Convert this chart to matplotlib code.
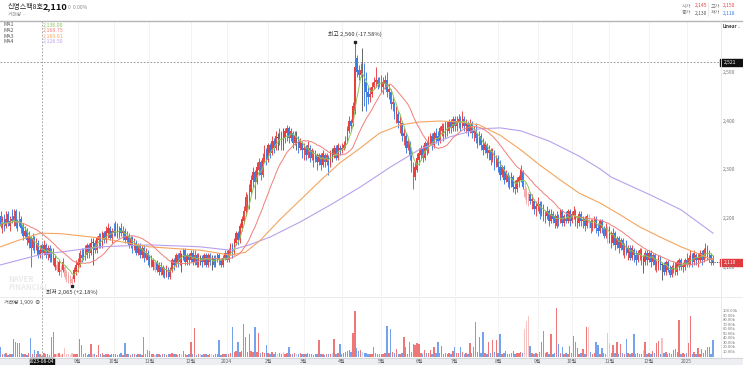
import matplotlib
matplotlib.use("Agg")
import matplotlib.pyplot as plt
import numpy as np
import pandas as pd
from matplotlib.patches import Rectangle

plt.rcParams['font.family'] = ['Noto Sans CJK KR', 'DejaVu Sans']

# ---------------- DATA (open, high, low, close, volume[k]) ----------------
jul23 = [(2205, 2215, 2180, 2185, 22), (2180, 2205, 2170, 2200, 6), (2200, 2210, 2175, 2180, 5),
         (2185, 2215, 2180, 2200, 8), (2210, 2215, 2185, 2190, 4), (2185, 2205, 2175, 2195, 6),
         (2200, 2220, 2190, 2195, 5), (2195, 2220, 2185, 2205, 39), (2215, 2220, 2180, 2185, 33),
         (2180, 2200, 2175, 2190, 30), (2190, 2215, 2185, 2195, 29), (2200, 2205, 2170, 2180, 7),
         (2185, 2190, 2155, 2165, 5), (2165, 2185, 2160, 2175, 6), (2175, 2180, 2145, 2155, 4),
         (2150, 2175, 2140, 2165, 8), (2160, 2165, 2100, 2140, 41), (2140, 2170, 2135, 2160, 5),
         (2160, 2165, 2130, 2140, 15)]
aug23 = [(2140, 2160, 2135, 2150, 6), (2150, 2155, 2120, 2125, 12), (2125, 2145, 2120, 2135, 5),
         (2145, 2150, 2118, 2130, 1.909), (2130, 2155, 2125, 2145, 7), (2145, 2150, 2120, 2125, 5),
         (2125, 2145, 2115, 2140, 6), (2140, 2145, 2110, 2120, 4), (2115, 2140, 2110, 2135, 43),
         (2135, 2140, 2105, 2115, 54), (2100, 2125, 2095, 2120, 6), (2095, 2115, 2090, 2105, 5),
         (2090, 2115, 2085, 2110, 7), (2090, 2105, 2080, 2095, 4), (2095, 2120, 2090, 2110, 6),
         (2080, 2105, 2075, 2100, 19), (2080, 2095, 2070, 2090, 5), (2070, 2090, 2068, 2085, 6),
         (2070, 2085, 2066, 2080, 4), (2068, 2082, 2065, 2075, 8), (2075, 2100, 2070, 2095, 5),
         (2090, 2115, 2085, 2105, 6)]
sep23 = [(2105, 2120, 2090, 2110, 6), (2105, 2135, 2100, 2130, 39), (2125, 2140, 2110, 2120, 26),
         (2120, 2140, 2115, 2135, 5), (2140, 2145, 2115, 2125, 7), (2125, 2150, 2120, 2145, 4),
         (2145, 2150, 2120, 2130, 6), (2130, 2160, 2125, 2150, 28), (2150, 2160, 2105, 2150, 5),
         (2150, 2155, 2130, 2135, 6), (2135, 2165, 2130, 2160, 4), (2155, 2170, 2140, 2165, 26),
         (2165, 2170, 2140, 2145, 5), (2145, 2175, 2140, 2170, 7), (2170, 2175, 2150, 2155, 4),
         (2155, 2185, 2150, 2175, 6), (2170, 2190, 2160, 2180, 5), (2180, 2185, 2155, 2160, 4),
         (2160, 2180, 2150, 2175, 6)]
oct23 = [(2175, 2190, 2165, 2170, 5), (2170, 2195, 2165, 2185, 6), (2185, 2190, 2160, 2165, 4),
         (2165, 2185, 2160, 2180, 5), (2180, 2190, 2165, 2170, 7), (2170, 2185, 2155, 2175, 4),
         (2175, 2180, 2150, 2155, 30), (2155, 2175, 2150, 2165, 5), (2165, 2170, 2140, 2145, 6),
         (2145, 2165, 2140, 2160, 4), (2160, 2165, 2130, 2140, 5), (2140, 2160, 2135, 2150, 6),
         (2150, 2155, 2125, 2130, 4), (2130, 2150, 2125, 2145, 5), (2145, 2150, 2120, 2125, 6),
         (2125, 2145, 2120, 2140, 4), (2140, 2145, 2110, 2120, 42), (2120, 2140, 2115, 2130, 5),
         (2130, 2135, 2105, 2115, 15)]
nov23 = [(2105, 2125, 2100, 2120, 12), (2120, 2125, 2100, 2105, 5), (2100, 2120, 2095, 2115, 6),
         (2095, 2115, 2090, 2110, 4), (2110, 2115, 2090, 2095, 5), (2090, 2110, 2085, 2105, 6),
         (2100, 2110, 2085, 2090, 4), (2085, 2105, 2080, 2100, 5), (2095, 2100, 2078, 2085, 6),
         (2085, 2105, 2080, 2100, 4), (2095, 2100, 2075, 2080, 5), (2080, 2100, 2075, 2095, 6),
         (2095, 2120, 2090, 2115, 7), (2115, 2120, 2095, 2105, 5), (2105, 2130, 2100, 2125, 6),
         (2125, 2130, 2100, 2110, 4), (2110, 2135, 2105, 2130, 5), (2125, 2130, 2090, 2125, 6),
         (2120, 2140, 2115, 2135, 13), (2135, 2140, 2105, 2110, 5), (2110, 2130, 2105, 2125, 4),
         (2125, 2130, 2105, 2115, 6)]
dec23 = [(2115, 2135, 2110, 2130, 31), (2130, 2135, 2105, 2110, 5), (2110, 2135, 2105, 2125, 63),
         (2125, 2130, 2100, 2105, 4), (2105, 2130, 2100, 2125, 6), (2120, 2125, 2105, 2120, 5),
         (2120, 2125, 2100, 2110, 4), (2110, 2130, 2105, 2125, 6), (2125, 2130, 2100, 2105, 5),
         (2105, 2130, 2100, 2125, 4), (2125, 2130, 2105, 2110, 6), (2115, 2125, 2095, 2115, 5),
         (2120, 2125, 2100, 2105, 4), (2105, 2125, 2100, 2120, 6), (2120, 2130, 2110, 2125, 5),
         (2125, 2130, 2105, 2115, 37), (2115, 2120, 2100, 2105, 4), (2105, 2125, 2100, 2120, 6),
         (2120, 2135, 2115, 2130, 5)]
jan24 = [(2130, 2135, 2110, 2115, 5), (2115, 2140, 2110, 2135, 6), (2130, 2150, 2125, 2145, 8),
         (2145, 2150, 2120, 2130, 65), (2130, 2160, 2125, 2155, 9), (2150, 2175, 2145, 2170, 12),
         (2170, 2175, 2145, 2155, 33), (2155, 2190, 2150, 2185, 10), (2180, 2205, 2175, 2200, 12),
         (2195, 2225, 2190, 2215, 72), (2215, 2255, 2205, 2245, 44), (2245, 2250, 2215, 2225, 10),
         (2225, 2270, 2220, 2260, 50), (2255, 2290, 2250, 2280, 12), (2280, 2305, 2265, 2295, 9),
         (2295, 2300, 2240, 2275, 65), (2275, 2315, 2270, 2305, 10), (2300, 2325, 2290, 2315, 52),
         (2315, 2320, 2280, 2290, 8), (2290, 2335, 2285, 2325, 9), (2320, 2350, 2315, 2340, 7),
         (2340, 2345, 2310, 2320, 26)]
feb24 = [(2320, 2355, 2315, 2350, 8), (2350, 2355, 2325, 2335, 6), (2335, 2370, 2330, 2360, 9),
         (2360, 2365, 2335, 2345, 5), (2345, 2380, 2340, 2370, 10), (2365, 2375, 2340, 2365, 6),
         (2360, 2385, 2350, 2375, 8), (2375, 2380, 2340, 2350, 5), (2360, 2385, 2340, 2360, 9),
         (2365, 2385, 2355, 2380, 6), (2375, 2392, 2360, 2385, 7), (2385, 2390, 2355, 2365, 22),
         (2365, 2385, 2360, 2380, 6), (2375, 2380, 2345, 2355, 5), (2355, 2380, 2350, 2370, 8),
         (2365, 2380, 2340, 2365, 6), (2365, 2370, 2335, 2345, 5), (2345, 2365, 2340, 2360, 7),
         (2355, 2360, 2325, 2340, 6)]
mar24 = [(2340, 2355, 2320, 2345, 6), (2345, 2350, 2320, 2330, 5), (2330, 2360, 2325, 2350, 7),
         (2345, 2350, 2315, 2325, 5), (2325, 2345, 2320, 2340, 6), (2335, 2340, 2305, 2320, 4),
         (2320, 2340, 2315, 2335, 5), (2330, 2335, 2300, 2315, 6), (2315, 2335, 2310, 2330, 37),
         (2330, 2335, 2300, 2310, 5), (2310, 2340, 2305, 2335, 6), (2330, 2335, 2305, 2315, 4),
         (2315, 2335, 2310, 2330, 5), (2325, 2330, 2290, 2310, 6), (2310, 2340, 2305, 2335, 5),
         (2330, 2345, 2315, 2330, 7), (2330, 2350, 2325, 2345, 39), (2345, 2350, 2320, 2325, 6),
         (2325, 2355, 2320, 2350, 8), (2345, 2350, 2330, 2340, 28)]
apr24 = [(2340, 2355, 2335, 2345, 6), (2345, 2360, 2340, 2350, 8), (2350, 2370, 2345, 2360, 10),
         (2360, 2390, 2355, 2380, 12), (2380, 2410, 2375, 2400, 14), (2400, 2405, 2380, 2390, 10),
         (2395, 2440, 2390, 2430, 52), (2420, 2560, 2415, 2510, 100), (2530, 2535, 2490, 2500, 18),
         (2505, 2515, 2485, 2495, 12), (2495, 2520, 2490, 2505, 15), (2480, 2550, 2420, 2480, 9),
         (2490, 2520, 2430, 2470, 8), (2480, 2500, 2420, 2460, 7), (2460, 2470, 2435, 2450, 6),
         (2450, 2470, 2440, 2455, 5), (2455, 2480, 2450, 2470, 6), (2470, 2490, 2465, 2480, 21),
         (2480, 2510, 2470, 2485, 7), (2485, 2490, 2465, 2475, 5), (2475, 2490, 2470, 2480, 6)]
may24 = [(2480, 2495, 2460, 2470, 6), (2470, 2490, 2455, 2480, 5), (2475, 2495, 2465, 2485, 7),
         (2485, 2500, 2450, 2460, 67), (2460, 2475, 2445, 2465, 8), (2460, 2465, 2425, 2435, 60),
         (2435, 2450, 2420, 2440, 9), (2435, 2440, 2405, 2415, 7), (2415, 2430, 2395, 2420, 17),
         (2415, 2420, 2385, 2395, 6), (2395, 2410, 2375, 2400, 5), (2395, 2400, 2360, 2370, 8),
         (2370, 2385, 2350, 2375, 43), (2370, 2375, 2335, 2345, 21), (2345, 2365, 2340, 2360, 6),
         (2355, 2360, 2320, 2330, 31), (2330, 2340, 2295, 2305, 9), (2305, 2315, 2260, 2285, 28),
         (2285, 2315, 2280, 2305, 26), (2300, 2335, 2295, 2325, 30)]
jun24 = [(2320, 2345, 2310, 2335, 27), (2330, 2350, 2320, 2345, 8), (2345, 2350, 2315, 2325, 6),
         (2325, 2360, 2320, 2355, 14), (2355, 2360, 2330, 2340, 7), (2340, 2370, 2335, 2360, 8),
         (2355, 2375, 2350, 2370, 15), (2370, 2375, 2340, 2350, 6), (2350, 2380, 2345, 2375, 22),
         (2375, 2385, 2355, 2365, 7), (2370, 2380, 2350, 2360, 33), (2360, 2390, 2355, 2385, 8),
         (2380, 2395, 2370, 2390, 24), (2390, 2395, 2360, 2370, 6), (2370, 2400, 2365, 2395, 7),
         (2395, 2400, 2370, 2380, 5), (2380, 2405, 2375, 2400, 8), (2400, 2405, 2375, 2385, 6),
         (2385, 2410, 2380, 2405, 12)]
jul24 = [(2405, 2410, 2380, 2390, 20), (2390, 2410, 2380, 2400, 7), (2395, 2415, 2385, 2405, 8),
         (2405, 2410, 2380, 2390, 22), (2390, 2420, 2385, 2410, 9), (2405, 2410, 2380, 2390, 6),
         (2390, 2405, 2375, 2395, 7), (2395, 2400, 2370, 2380, 5), (2380, 2405, 2375, 2395, 30),
         (2395, 2400, 2365, 2375, 8), (2375, 2390, 2360, 2380, 20), (2380, 2395, 2355, 2365, 76),
         (2365, 2375, 2345, 2355, 9), (2355, 2380, 2350, 2370, 44), (2370, 2375, 2340, 2350, 8),
         (2350, 2365, 2330, 2340, 53), (2340, 2360, 2335, 2355, 7), (2350, 2355, 2325, 2335, 6),
         (2335, 2350, 2320, 2340, 32), (2340, 2345, 2310, 2320, 8), (2320, 2345, 2315, 2335, 37),
         (2335, 2340, 2300, 2310, 9), (2310, 2330, 2305, 2325, 36)]
aug24 = [(2325, 2330, 2295, 2305, 8), (2305, 2320, 2280, 2290, 50), (2290, 2310, 2285, 2305, 6),
         (2305, 2310, 2270, 2280, 7), (2280, 2300, 2275, 2295, 12), (2290, 2295, 2265, 2275, 6),
         (2275, 2290, 2260, 2270, 5), (2270, 2295, 2265, 2290, 7), (2285, 2290, 2255, 2265, 13),
         (2265, 2280, 2250, 2260, 6), (2260, 2285, 2255, 2280, 7), (2275, 2290, 2265, 2285, 8),
         (2280, 2310, 2275, 2300, 9), (2295, 2300, 2260, 2265, 7), (2245, 2275, 2240, 2260, 60),
         (2240, 2265, 2230, 2255, 77), (2230, 2255, 2225, 2245, 89), (2250, 2255, 2230, 2235, 24),
         (2235, 2250, 2220, 2240, 8), (2235, 2240, 2210, 2220, 6), (2220, 2235, 2205, 2225, 7)]
sep24 = [(2225, 2245, 2215, 2230, 6), (2230, 2235, 2200, 2210, 10), (2210, 2235, 2205, 2225, 31),
         (2225, 2230, 2195, 2205, 57), (2205, 2215, 2190, 2210, 7), (2205, 2225, 2200, 2215, 10),
         (2215, 2220, 2185, 2195, 6), (2195, 2220, 2190, 2210, 50), (2210, 2215, 2190, 2200, 6),
         (2205, 2210, 2180, 2190, 7), (2185, 2215, 2180, 2205, 107), (2205, 2210, 2185, 2195, 28),
         (2195, 2220, 2190, 2215, 7), (2215, 2220, 2185, 2190, 22), (2190, 2210, 2185, 2205, 6),
         (2200, 2215, 2190, 2195, 7), (2195, 2220, 2190, 2215, 5), (2215, 2220, 2185, 2195, 24)]
oct24 = [(2195, 2215, 2190, 2210, 7), (2205, 2225, 2200, 2215, 46), (2215, 2220, 2185, 2195, 31),
         (2195, 2205, 2180, 2190, 18), (2190, 2215, 2185, 2210, 6), (2210, 2215, 2185, 2195, 7),
         (2195, 2205, 2180, 2200, 17), (2200, 2205, 2175, 2185, 6), (2185, 2210, 2180, 2205, 66),
         (2190, 2210, 2180, 2195, 66), (2195, 2200, 2170, 2180, 10), (2180, 2200, 2175, 2195, 6),
         (2190, 2205, 2180, 2200, 7), (2200, 2205, 2170, 2180, 32), (2180, 2190, 2165, 2175, 26),
         (2175, 2200, 2170, 2195, 6), (2195, 2200, 2170, 2180, 18), (2180, 2185, 2160, 2165, 7),
         (2165, 2190, 2160, 2180, 6), (2160, 2185, 2150, 2170, 52)]
nov24 = [(2170, 2185, 2150, 2170, 29), (2170, 2175, 2140, 2150, 8), (2150, 2180, 2145, 2170, 26),
         (2170, 2175, 2135, 2145, 7), (2145, 2165, 2140, 2160, 32), (2160, 2165, 2130, 2140, 6),
         (2140, 2160, 2135, 2155, 28), (2155, 2160, 2125, 2135, 7), (2135, 2150, 2120, 2140, 6),
         (2140, 2155, 2125, 2130, 39), (2130, 2145, 2115, 2140, 8), (2140, 2145, 2115, 2120, 6),
         (2120, 2145, 2115, 2140, 7), (2135, 2140, 2110, 2125, 50), (2125, 2135, 2105, 2115, 6),
         (2115, 2135, 2110, 2130, 7), (2125, 2140, 2115, 2135, 5), (2135, 2140, 2105, 2115, 6),
         (2115, 2125, 2088, 2115, 15), (2110, 2135, 2105, 2130, 32), (2130, 2135, 2105, 2115, 6)]
dec24 = [(2115, 2135, 2110, 2130, 7), (2130, 2135, 2100, 2110, 6), (2110, 2130, 2105, 2125, 13),
         (2125, 2130, 2095, 2105, 7), (2105, 2115, 2090, 2110, 29), (2100, 2125, 2095, 2120, 35),
         (2120, 2125, 2095, 2105, 6), (2105, 2110, 2074, 2105, 41), (2105, 2110, 2085, 2090, 7),
         (2090, 2115, 2085, 2110, 9), (2110, 2115, 2090, 2095, 6), (2095, 2105, 2080, 2085, 7),
         (2085, 2105, 2080, 2100, 6), (2095, 2110, 2088, 2105, 15), (2105, 2110, 2085, 2090, 17),
         (2090, 2115, 2085, 2110, 9), (2100, 2120, 2095, 2115, 80), (2115, 2120, 2095, 2100, 6),
         (2100, 2110, 2090, 2105, 8), (2100, 2120, 2095, 2115, 6)]
jan25 = [(2115, 2130, 2100, 2105, 7), (2105, 2125, 2100, 2120, 29), (2110, 2135, 2105, 2125, 89),
         (2125, 2130, 2100, 2110, 6), (2110, 2135, 2105, 2130, 9), (2125, 2130, 2105, 2115, 6),
         (2115, 2130, 2100, 2120, 18), (2115, 2135, 2110, 2130, 6), (2130, 2135, 2105, 2115, 17),
         (2115, 2140, 2110, 2135, 7), (2130, 2150, 2120, 2140, 15), (2140, 2145, 2115, 2120, 20),
         (2120, 2135, 2110, 2130, 22), (2125, 2130, 2105, 2115, 6), (2115, 2125, 2105, 2110, 36)]

months = [jul23, aug23, sep23, oct23, nov23, dec23, jan24, feb24, mar24, apr24, may24, jun24,
          jul24, aug24, sep24, oct24, nov24, dec24, jan25]
month_labels = ["", "", "9월", "10월", "11월", "12월", "2024", "2월", "3월", "4월", "5월", "6월",
                "7월", "8월", "9월", "10월", "11월", "12월", "2025"]

# 60-day and 120-day moving averages (trading-day index, value)
ma60_idx = [0, 10, 21, 32, 53, 79, 106, 122, 130, 138, 148, 159, 170, 180, 191, 201, 212, 222,
            233, 244, 254, 265, 276, 286, 297, 307, 318, 329, 339, 350, 361, 371, 378]
ma60_val = [2142, 2156, 2170, 2169, 2160, 2142, 2135, 2125, 2131, 2156, 2197, 2238, 2279, 2314,
            2345, 2375, 2392, 2398, 2400, 2398, 2392, 2371, 2341, 2310, 2279, 2252, 2232, 2207,
            2183, 2162, 2142, 2127, 2115]
ma120_idx = [0, 21, 53, 79, 106, 122, 132, 143, 159, 175, 191, 207, 222, 238, 254, 265, 276, 291,
             307, 318, 324, 345, 361, 378]
ma120_val = [2105, 2126, 2142, 2146, 2142, 2135, 2146, 2162, 2193, 2228, 2265, 2306, 2341, 2367,
             2384, 2386, 2380, 2359, 2328, 2302, 2285, 2248, 2218, 2170]

cross_idx = 22          # 2023-08-04
cross_date = "2023-08-04"
cross_price = 2521
price_ticks = [2100, 2200, 2300, 2400, 2500]
vol_ticks = [10, 20, 30, 40, 50, 60, 70, 80, 90, 100]

# ---------------- PREP ----------------
rows = [r for m in months for r in m]
o = np.array([r[0] for r in rows], float)
h = np.array([r[1] for r in rows], float)
l = np.array([r[2] for r in rows], float)
c = np.array([r[3] for r in rows], float)
v = np.array([r[4] for r in rows], float)
n = len(rows)
idx = np.arange(n)
month_starts = np.cumsum([0] + [len(m) for m in months[:-1]])

RED, PINK, BLUE, LBLUE, GRAY = '#e83f3f', '#f3a9a9', '#3a7be6', '#a6c2f2', '#595959'
prev = np.concatenate([[c[0]], c[:-1]])
cols, vcols = [], []
for oi, ci, pi in zip(o, c, prev):
    if ci > oi:
        cols.append(RED if ci >= pi else PINK)
    elif ci < oi:
        cols.append(BLUE if ci <= pi else LBLUE)
    else:
        cols.append(GRAY)
    vcols.append(cols[-1] if cols[-1] != GRAY else (PINK if ci >= pi else LBLUE))

W, H = 743, 365
fig = plt.figure(figsize=(W / 100, H / 100), dpi=100)
fig.patch.set_facecolor('white')


def T(xp, yp, s, **kw):
    return fig.text(xp / W, 1 - yp / H, s, **kw)


def ypx(p):
    return 267.3 - (p - 2100) * 0.4875


def vpx(val):
    return 356.6 - val * 0.456


XL = (-0.5 / 1.885, (720 - 0.5) / 1.885)
ax = fig.add_axes([0, 1 - 296 / H, 720 / W, (296 - 21) / H])
ax.set_xlim(*XL)
ax.set_ylim(2100 - (296 - 267.3) / 0.4875, 2100 + (267.3 - 21) / 0.4875)
vax = fig.add_axes([0, 1 - 358 / H, 720 / W, (358 - 297) / H])
vax.set_xlim(*XL)
vax.set_ylim((356.6 - 358) / 0.456, (356.6 - 297) / 0.456)
for a in (ax, vax):
    a.set_axis_off()
    for ms in month_starts[2:]:
        a.axvline(ms, color='#f1f1f1', lw=0.6, zorder=0)

# candles
ax.vlines(idx, l, h, colors=cols, lw=0.65, zorder=2)
body_lo = np.minimum(o, c)
body_h = np.maximum(np.abs(c - o), 1.5)
ax.bar(idx, body_h, bottom=body_lo, width=0.78, color=cols, linewidth=0, zorder=3)

# moving averages
s = pd.Series(c)
ma5 = s.rolling(5, min_periods=1).mean()
ma20 = s.rolling(20, min_periods=1).mean()
C_MA1, C_MA2, C_MA3, C_MA4 = '#8cc657', '#f07f78', '#f4a55f', '#b9a0ee'
ax.plot(ma120_idx, ma120_val, color=C_MA4, lw=0.8, zorder=4)
ax.plot(ma60_idx, ma60_val, color=C_MA3, lw=0.8, zorder=4)
ax.plot(idx, ma20, color=C_MA2, lw=0.7, zorder=4)
ax.plot(idx, ma5, color=C_MA1, lw=0.7, zorder=4)

# volume
vax.bar(idx, v, width=0.75, color=vcols, alpha=0.7, linewidth=0)

# crosshair
ax.axhline(cross_price, color='#888888', lw=0.6, ls=(0, (2, 2)), zorder=5)
fig.add_artist(plt.Line2D([(cross_idx * 1.885 + 0.5) / W] * 2, [1 - 21 / H, 1 - 358 / H],
                          color='#999999', lw=0.6, ls=(0, (2, 2))))

# high / low annotations
hi_i = int(np.argmax(h)); lo_i = int(np.argmin(l))
last = c[-1]
ax.plot(hi_i, h[hi_i] + 2, 's', color='#222', ms=1.6, zorder=6)
ax.text(hi_i, h[hi_i] + 12, f"최고 {h[hi_i]:,.0f} ({(last / h[hi_i] - 1) * 100:+.2f}%)",
        ha='center', va='bottom', fontsize=4.2, color='#333')
ax.plot(lo_i, l[lo_i] - 3, 's', color='#222', ms=1.6, zorder=6)
ax.text(lo_i, l[lo_i] - 10, f"최저 {l[lo_i]:,.0f} ({(last / l[lo_i] - 1) * 100:+.2f}%)",
        ha='center', va='top', fontsize=4.2, color='#333')

# watermark
T(8, 279, "NAVER", fontsize=5.5, color='#ebebeb', weight='bold', va='center')
T(8, 287, "FINANCIAL", fontsize=5.5, color='#ebebeb', weight='bold', va='center')

# header
T(8, 7, "신영스팩8호", fontsize=5.0, color='#222', va='center')
T(43, 7, f"{last:,.0f}", fontsize=6.6, color='#111', weight='bold', va='center')
T(68, 7.5, "0  0.00%", fontsize=3.5, color='#888', va='center')
T(8, 14.5, "거래량  -", fontsize=3.4, color='#888', va='center')
T(682, 6, "시가", fontsize=3.6, color='#777', va='center')
T(695, 6, f"{o[cross_idx]:,.0f}", fontsize=3.6, color='#e04848', va='center')
T(711, 6, "고가", fontsize=3.6, color='#777', va='center')
T(723, 6, f"{h[cross_idx]:,.0f}", fontsize=3.6, color='#e04848', va='center')
T(682, 13, "종가", fontsize=3.6, color='#777', va='center')
T(695, 13, f"{c[cross_idx]:,.0f}", fontsize=3.6, color='#555', va='center')
T(711, 13, "저가", fontsize=3.6, color='#777', va='center')
T(723, 13, f"{l[cross_idx]:,.0f}", fontsize=3.6, color='#3d7ee6', va='center')
fig.add_artist(plt.Line2D([708 / W] * 2, [1 - 3 / H, 1 - 16 / H], color='#dddddd', lw=0.5))
fig.add_artist(plt.Line2D([0, 1], [1 - 20.5 / H] * 2, color='#b5b5b5', lw=1.0))

# legend
ma_vals = [ma5[cross_idx], ma20[cross_idx],
           np.interp(cross_idx, ma60_idx, ma60_val), np.interp(cross_idx, ma120_idx, ma120_val)]
for k, (name, col, val) in enumerate(zip(["MA1", "MA2", "MA3", "MA4"],
                                         [C_MA1, C_MA2, C_MA3, C_MA4], ma_vals)):
    yy = 25 + k * 5.6
    T(4, yy, name, fontsize=3.8, color='#555', va='center')
    T(43, yy, f"{val:,.2f}", fontsize=3.8, color=col, va='center')

# right axis
fig.add_artist(plt.Line2D([720.5 / W] * 2, [1 - 21 / H, 1 - 358 / H], color='#e6e6e6', lw=0.6))
T(723, 27, "Linear", fontsize=3.3, color='#333', weight='bold', va='center')
T(736, 27, "⌄", fontsize=3.3, color='#999', va='center')
for p in price_ticks:
    T(723, ypx(p), f"{p:,}", fontsize=3.6, color='#777', va='center')
for vt in vol_ticks:
    T(723, vpx(vt), f"{vt:.2f}k", fontsize=3.0, color='#777', va='center')
fig.add_artist(plt.Line2D([0, 1], [1 - 296.5 / H] * 2, color='#e8e8e8', lw=0.6))

# crosshair price tag
fig.add_artist(Rectangle((720 / W, 1 - (ypx(cross_price) + 3.5) / H), 23 / W, 7 / H,
                         color='#111', transform=fig.transFigure))
T(724, ypx(cross_price), f"{cross_price:,}", fontsize=3.6, color='white', va='center')
# last price tag
ax.plot([n - 3, XL[1]], [last, last], color='#444', lw=0.6, ls=(0, (1.5, 1.5)), zorder=5)
fig.add_artist(Rectangle((720 / W, 1 - (ypx(last) + 3.5) / H), 23 / W, 7 / H,
                         color='#e0393e', transform=fig.transFigure))
T(724, ypx(last), f"{last:,.0f}", fontsize=3.6, color='white', va='center')

# volume label
T(4, 302, f"거래량 {v[cross_idx] * 1000:,.0f}  ⊗", fontsize=3.8, color='#555', va='center')

# x-axis strip
fig.add_artist(Rectangle((0, 0), 1, 7 / H, color='#eceef2', transform=fig.transFigure))
fig.add_artist(plt.Line2D([0, 1], [7 / H] * 2, color='#cfd3d8', lw=0.6))
for ms, lab in zip(month_starts, month_labels):
    if lab:
        T(ms * 1.885 + 0.5, 361.5, lab, fontsize=3.6, color='#666', ha='center', va='center')
cx = cross_idx * 1.885 + 0.5
fig.add_artist(Rectangle(((cx - 12) / W, 0), 24 / W, 7 / H, color='#111', transform=fig.transFigure))
T(cx, 361.5, cross_date, fontsize=3.5, color='white', ha='center', va='center')

fig.savefig("out.png", dpi=100)
